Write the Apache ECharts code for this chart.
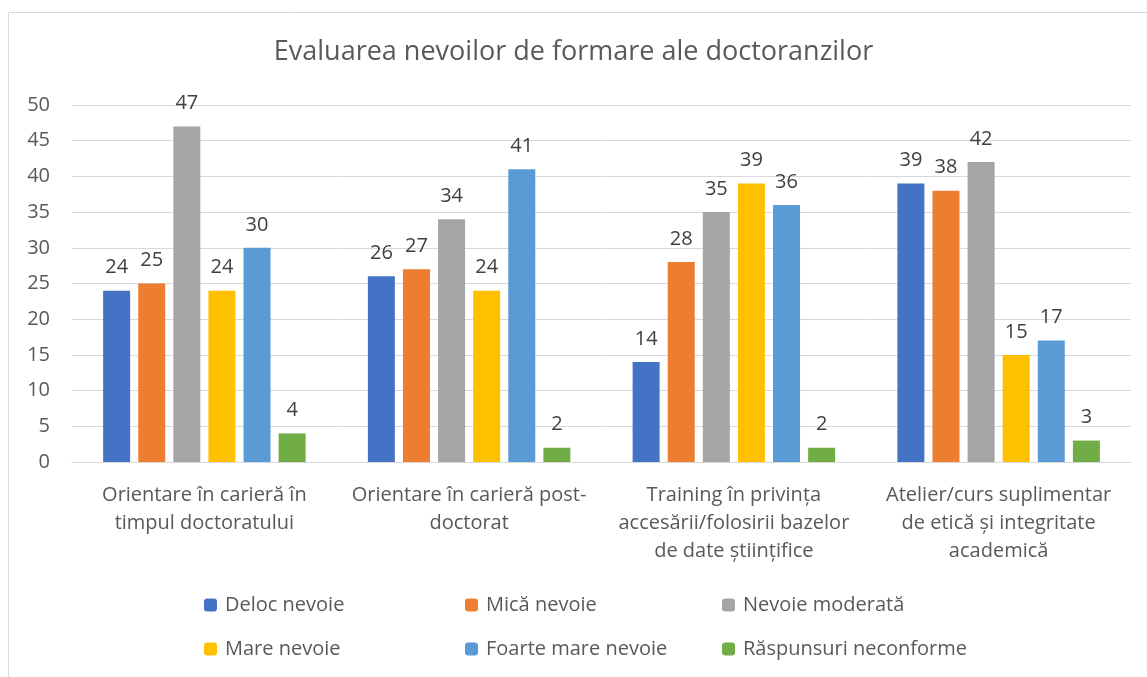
<!DOCTYPE html>
<html>
<head>
<meta charset="utf-8">
<script src="https://cdn.jsdelivr.net/npm/echarts@6/dist/echarts.min.js"></script>
<style>
  html, body { margin: 0; padding: 0; background: #fff; }
  #chart { width: 1147px; height: 677px; }
</style>
</head>
<body>
<div id="chart"></div>
<script>
// categories (line breaks as in the original)
const categories = [
  'Orientare în carieră în\ntimpul doctoratului',
  'Orientare în carieră post-\ndoctorat',
  'Training în privința\naccesării/folosirii bazelor\nde date științifice',
  'Atelier/curs suplimentar\nde etică și integritate\nacademică'
];
const seriesNames = ['Deloc nevoie', 'Mică nevoie', 'Nevoie moderată', 'Mare nevoie', 'Foarte mare nevoie', 'Răspunsuri neconforme'];
const delocNevoie = [24, 26, 14, 39];
const micaNevoie = [25, 27, 28, 38];
const nevoieModerata = [47, 34, 35, 42];
const mareNevoie = [24, 24, 39, 15];
const foarteMareNevoie = [30, 41, 36, 17];
const raspunsuriNeconforme = [4, 2, 2, 3];
const yTicks = [0, 5, 10, 15, 20, 25, 30, 35, 40, 45, 50];

const colors = ['#4472C4', '#ED7D31', '#A5A5A5', '#FFC000', '#5B9BD5', '#70AD47'];
const values = [delocNevoie, micaNevoie, nevoieModerata, mareNevoie, foarteMareNevoie, raspunsuriNeconforme];
const font = 'Open Sans';

// legend: 3 columns, 2 rows
const legendPos = [[199, 590], [460, 590], [717, 590], [199, 634], [460, 634], [717, 634]];
const legends = seriesNames.map((name, i) => ({
  data: [name],
  left: legendPos[i][0],
  top: legendPos[i][1],
  itemWidth: 13,
  itemHeight: 13,
  itemGap: 0,
  selectedMode: false,
  textStyle: { color: '#595959', fontSize: 20, fontFamily: font, padding: [0, 0, 6, 3] }
}));

const chart = echarts.init(document.getElementById('chart'));
chart.setOption({
  animation: false,
  color: colors,
  title: {
    text: 'Evaluarea nevoilor de formare ale doctoranzilor',
    left: 'center',
    top: 34,
    textStyle: { color: '#595959', fontSize: 27, fontWeight: 'normal', fontFamily: font }
  },
  legend: legends,
  graphic: [{
    type: 'rect',
    shape: { x: 8.5, y: 12.5, width: 1160, height: 700 },
    style: { fill: 'none', stroke: '#d9d9d9', lineWidth: 1 },
    silent: true
  }],
  grid: { left: 72, right: 16, top: 105, bottom: 215 },
  xAxis: {
    type: 'category',
    data: categories,
    axisLine: { lineStyle: { color: '#d9d9d9' } },
    axisTick: { show: false },
    axisLabel: { color: '#595959', fontSize: 20, fontFamily: font, lineHeight: 28, margin: 19, interval: 0 }
  },
  yAxis: {
    type: 'value',
    min: yTicks[0],
    max: yTicks[yTicks.length - 1],
    interval: 5,
    axisLine: { show: false },
    axisTick: { show: false },
    splitLine: { lineStyle: { color: '#d9d9d9' } },
    axisLabel: { color: '#595959', fontSize: 20, fontFamily: font, margin: 22 }
  },
  series: seriesNames.map((name, i) => ({
    name: name,
    type: 'bar',
    data: values[i],
    barWidth: 27,
    barGap: '30%',
    label: { show: true, position: 'top', distance: 13, color: '#404040', fontSize: 20, fontFamily: font }
  }))
});
</script>
</body>
</html>
